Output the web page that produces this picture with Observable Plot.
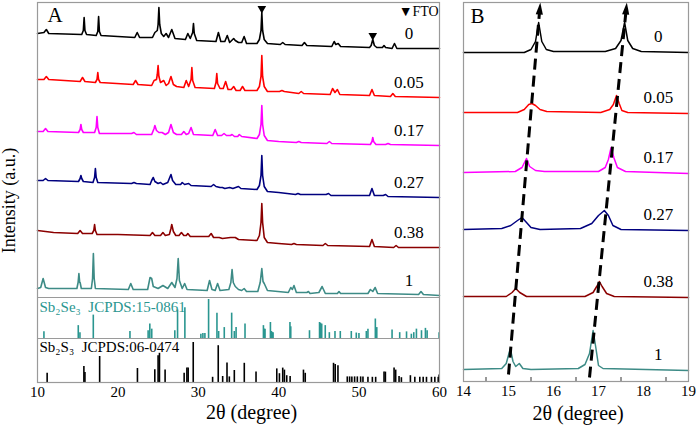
<!DOCTYPE html>
<html><head><meta charset="utf-8">
<script src="https://cdn.jsdelivr.net/npm/d3@7"></script>
<script src="https://cdn.jsdelivr.net/npm/@observablehq/plot@0.6"></script>
<style>
html,body{margin:0;padding:0;background:#fff;}
#wrap{position:relative;width:697px;height:428px;overflow:hidden;}
#pa{position:absolute;left:0;top:0;}
#pb{position:absolute;left:440px;top:0;}
#wrap svg, #wrap svg text{font-family:"Liberation Serif","Times New Roman",serif !important;}
</style></head><body>
<div id="wrap"><div id="pa"></div><div id="pb"></div></div>
<script>
// ---------------- DATA ----------------
const seriesNames = ["0", "0.05", "0.17", "0.27", "0.38", "1"];
const xTicksA = [10, 20, 30, 40, 50, 60];
const xTicksB = [14, 15, 16, 17, 18, 19];
const minorTicksB = [14.5, 15.5, 16.5, 17.5, 18.5];

// Panel A: 2θ (deg), intensity (a.u., stacked)
const scanA_0 = [[10,349],[10.8,350],[11.1,353],[11.4,349],[15.5,348],[15.7,352],[15.8,365],[15.9,352],[16.1,348],
 [17.3,347],[17.5,351],[17.6,366],[17.7,351],[17.9,347],[22.1,345],[22.4,350],[22.7,345],
 [24.3,345],[24.6,350],[24.9,352],[25.0,358],[25.1,375],[25.2,358],[25.4,349],[25.7,346],[26.0,349],[26.3,345],[26.7,353],[27.1,344],
 [28.4,343],[28.7,349],[29.0,344],[29.3,350],[29.4,359],[29.5,349],[29.8,342],
 [32.2,341],[32.5,350],[32.8,341],[33.3,341],[33.6,347],[33.9,340],[34.4,344],[34.6,342],[35.0,340],[35.4,340],[35.7,346],[36.0,339],
 [37.3,339],[37.6,343],[37.8,352],[37.9,370],[38.0,352],[38.2,343],[38.6,339],[40.2,338],[40.5,340],[40.8,338],
 [42.9,337],[43.2,340],[43.5,337],[46.6,336],[46.9,341],[47.1,338],[47.4,339],[47.7,336],
 [51.3,335],[51.5,337],[51.7,343],[51.9,337],[52.2,335],[52.9,335],[53.1,337],[53.3,335],[54.1,334],[54.4,339],[54.7,334],[60,334]];
const scanA_005 = [[10,303],[10.8,303],[11.1,306],[11.4,303],[15.3,301],[15.6,305],[15.9,301],
 [17.2,300],[17.4,303],[17.5,310],[17.6,303],[17.8,300],[21.9,298],[22.2,302],[22.5,298],
 [24.2,297],[24.5,302],[24.8,303],[24.9,308],[25.0,317],[25.1,306],[25.3,300],[25.7,302],[26.0,297],[26.3,299],[26.6,306],[26.9,298],[27.3,296],
 [28.2,295],[28.5,302],[28.8,296],[29.1,303],[29.2,315],[29.3,302],[29.6,295],
 [32.0,294],[32.2,300],[32.3,309],[32.4,299],[32.7,294],[33.1,294],[33.4,301],[33.7,293],[34.1,293],[34.4,296],[34.7,292],[35.2,292],[35.5,296],[35.8,292],
 [37.3,292],[37.6,296],[37.8,306],[37.9,327],[38.0,306],[38.2,296],[38.6,291],[40.1,291],[40.4,292],[40.7,291],
 [42.5,289],[42.8,291],[43.1,289],[46.4,288],[46.7,294],[47.0,290],[47.3,293],[47.6,288],
 [51.3,287],[51.6,293],[51.9,287],[53.9,286],[54.2,289],[54.5,286],[60,285]];
const scanA_017 = [[10,251],[10.7,251],[11.0,254],[11.3,251],[15.1,250],[15.3,253],[15.4,258],[15.5,253],[15.7,250],
 [17.1,250],[17.3,255],[17.4,266],[17.5,255],[17.7,249],[21.7,249],[22.0,250],[22.3,248],
 [24.2,248],[24.5,254],[24.6,257],[24.8,252],[25.1,250],[25.5,250],[25.9,248],[26.3,250],[26.6,258],[26.9,250],[27.3,248],
 [27.9,248],[28.2,251],[28.5,248],[28.8,249],[29.1,255],[29.4,248],
 [31.8,247],[32.1,253],[32.4,247],[32.9,247],[33.2,249],[33.5,247],[34.0,247],[34.2,248],[34.5,246],[34.9,246],[35.1,248],[35.4,246],
 [37.3,244],[37.6,248],[37.8,258],[37.9,277],[38.0,258],[38.2,247],[38.6,242],[40,241],
 [42.2,240],[42.5,241],[42.8,240],[46.0,239],[46.3,241],[46.6,239],
 [51.4,238],[51.6,241],[51.7,245],[51.8,241],[52.1,238],[53.3,238],[53.6,239],[53.9,238],[60,237]];
const scanA_027 = [[10,202],[10.7,202],[11.0,204],[11.3,202],[15.1,201],[15.3,204],[15.4,207],[15.5,204],[15.7,201],
 [16.9,200],[17.1,205],[17.2,214],[17.3,205],[17.5,200],[21.7,199],[22.0,200],[22.3,199],
 [24.0,198],[24.2,202],[24.4,205],[24.6,201],[25.0,199],[25.3,200],[25.6,198],[26.2,200],[26.5,206],[26.6,208],[26.8,202],[27.2,198],
 [27.8,198],[28.0,200],[28.3,198],[28.8,199],[29.1,197],
 [31.6,196],[31.9,198],[32.2,196],[32.7,195],[33.0,195],[33.3,194],[33.9,195],[34.3,194],[35.0,196],[35.3,194],
 [37.3,193],[37.6,197],[37.8,207],[37.9,227],[38.0,207],[38.2,196],[38.6,191],[40,190],
 [42.1,188],[42.4,189],[42.7,188],[45.9,188],[46.2,189],[46.5,187],
 [51.3,187],[51.6,194],[51.9,187],[53.0,187],[53.3,188],[53.6,186],[60,185]];
const scanA_038 = [[10,152],[12,150],[15.0,149],[15.3,152],[15.6,149],[16.8,149],[17.0,152],[17.1,158],[17.2,152],[17.4,148],
 [20,148],[24.0,147],[24.3,150],[24.6,147],[25.3,147],[25.6,150],[25.9,147],[26.4,148],[26.6,154],[26.7,158],[26.9,151],[27.2,147],
 [27.6,147],[27.9,150],[28.2,147],[28.5,147],[28.7,149],[29.0,146],
 [31.3,146],[31.6,149],[31.9,145],[32.3,145],[32.6,145],[33.0,144],[34.0,145],[34.6,145],[35.0,143],
 [37.3,142],[37.6,147],[37.8,160],[37.9,179],[38.0,160],[38.2,145],[38.6,140],[40,139],
 [41.6,138],[41.9,139],[42.2,138],[45.5,137],[45.8,139],[46.1,137],
 [51.3,136],[51.6,143],[51.9,136],[54.3,135],[54.6,137],[54.9,135],[60,135]];
const scanA_1 = [[10,94],[10.4,95],[10.7,104],[11.0,95],[11.4,94],
 [14.9,94],[15.05,100],[15.15,109],[15.25,100],[15.3,100],[15.45,94],
 [16.7,94],[16.85,104],[16.95,129],[17.05,104],[17.2,94],[21.3,93],[21.6,99],[21.9,93],
 [23.7,93],[24.0,105],[24.2,104],[24.4,96],[25.0,94],[25.6,97],[26.2,94],[26.7,100],[27.1,95],[27.35,104],[27.5,124],[27.65,102],[28.0,94],[28.3,99],[28.6,93],
 [31.1,92],[31.4,102],[31.7,93],[32.1,92],[32.4,99],[32.7,92],
 [33.8,93],[34.05,100],[34.2,113],[34.35,100],[34.6,96],[35.0,93],[35.4,92],[35.7,94],[36.0,91],
 [37.4,91],[37.7,100],[37.9,114],[38.05,101],[38.2,99],[38.6,92],
 [41.2,90],[41.5,95],[41.7,93],[41.9,97],[42.2,90],[43.5,90],[43.7,91],[43.9,89],
 [45.0,90],[45.4,96],[45.8,89],[47.3,89],[47.5,91],[47.7,89],
 [51.1,89],[51.4,93],[51.7,91],[52.0,95],[52.3,89],[57.4,88],[57.7,91],[58.0,88],[60,87]];

// FTO substrate peaks marked on the top pattern: 2θ, marker intensity
const ftoMarks = [[37.9, 374], [51.7, 347]];

// Reference patterns: 2θ, relative intensity (%)
const refSeLabel = "Sb₂Se₃  JCPDS:15-0861";
const refSticksSe = [[10.8,17],[15.07,33],[15.28,15],[16.94,60],[21.5,18],[23.76,20],[23.97,37],[24.21,24],[27.08,20],[27.42,73],[28.33,79],
 [30.32,11],[30.57,13],[30.82,13],[31.28,100],[32.32,65],[32.53,18],[33.23,28],[34.15,65],[34.48,18],[34.7,28],[35.81,37],
 [38.1,33],[38.2,24],[38.3,24],[38.97,41],[39.1,18],[39.2,15],[39.3,15],[41.4,41],[41.5,30],[43.83,20],
 [45.08,41],[45.2,39],[45.35,37],[45.79,33],[46.3,15],[47.0,18],[47.66,18],[49.03,18],[49.65,14],[49.98,13],
 [50.9,18],[51.1,24],[52.02,50],[52.2,28],[54.1,22],[55.05,15],[55.9,17],[56.5,11],[56.8,15],[57.13,24],[57.76,20],[58.25,26],[58.46,20],[59.95,15]];
const refSLabel = "Sb₂S₃  JCPDS:06-0474";
const refSticksS = [[11.2,23],[15.77,40],[15.9,25],[17.73,65],[22.43,35],[24.59,32],[25.0,67],[25.17,73],[25.87,31],[28.24,23],[28.58,36],[28.74,36],
 [29.37,100],[31.78,13],[32.48,92],[33.03,15],[33.57,49],[33.86,14],[34.48,30],[35.72,48],[37.18,26],
 [39.76,34],[40.09,22],[40.5,36],[40.71,31],[41.0,17],[41.42,15],[43.08,31],[43.3,23],[46.82,48],[47.03,45],[47.37,42],
 [48.53,14],[48.82,14],[49.1,14],[49.44,14],[49.78,14],[50.19,14],[50.48,14],[51.1,13],[51.65,13],[52.06,13],
 [53.1,26],[53.27,26],[54.35,36],[54.55,31],[54.97,15],[55.26,12],[56.38,17],[56.93,13],[57.55,13],[57.97,13],[58.38,13],[59.0,13],[59.42,13],[59.84,13],[59.95,19]];

// Panel B: 2θ (deg), intensity (a.u., stacked)
const scanB_0 = [[14,329],[15.35,329],[15.5,332],[15.6,340],[15.67,359],[15.74,340],[15.84,332],[16.0,330],
 [17.15,330],[17.38,333],[17.5,341],[17.58,359],[17.65,341],[17.76,333],[17.95,330],[19,329]];
const scanB_005 = [[14,269],[15.2,269],[15.35,272],[15.45,277],[15.52,278],[15.6,276],[15.7,272],[15.85,270],
 [17.05,269],[17.25,272],[17.33,277],[17.4,286],[17.46,278],[17.52,271],[17.65,269],[19,268]];
const scanB_017 = [[14,209],[15.15,210],[15.3,214],[15.4,223],[15.47,215],[15.6,211],[15.8,210],
 [17.0,210],[17.15,214],[17.22,222],[17.28,234],[17.34,224],[17.42,214],[17.6,210],[19,208]];
const scanB_027 = [[14,152],[14.85,153],[15.05,156],[15.2,161],[15.3,164],[15.38,160],[15.5,154],[15.7,152],
 [16.6,153],[16.85,158],[17.0,166],[17.13,171],[17.22,166],[17.32,156],[17.5,152],[19,151]];
const scanB_038 = [[14,85],[14.95,85],[15.08,89],[15.16,93],[15.25,89],[15.4,85],
 [16.7,85],[16.88,89],[16.96,95],[17.02,100],[17.08,95],[17.18,88],[17.35,85],[19,84]];
const scanB_1 = [[14,12],[14.85,13],[14.95,18],[15.04,33],[15.1,20],[15.16,15],[15.24,18],[15.32,13],[15.5,12],
 [16.55,13],[16.7,17],[16.8,28],[16.88,51],[16.94,34],[17.0,16],[17.1,13],[19,11]];

// Peak-shift guide lines (2θ, intensity) from bottom to top
const guidesB = [
  {x1: 15.0, y1: 7, x2: 15.69, y2: 370},
  {x1: 16.8, y1: 4, x2: 17.61, y2: 370}
];

// ---------------- STYLE / LAYOUT ----------------
const seriesColors = ["#000000", "#ff0000", "#ff00ff", "#00007f", "#8b0000", "#3d8b86"];
const refSeColor = "#2a9690";
const font = "Liberation Serif, Times New Roman, serif";
const frameColor = "#9a9a9a";
const intFmt = d => String(d);

const scansA = [scanA_0, scanA_005, scanA_017, scanA_027, scanA_038, scanA_1];
const scansB = [scanB_0, scanB_005, scanB_017, scanB_027, scanB_038, scanB_1];

function toTable(scans) {
  const t = [];
  scans.forEach((scan, i) => scan.forEach(([x, y]) => t.push({x, y, s: seriesNames[i]})));
  return t;
}
const tableA = toTable(scansA);
const tableB = toTable(scansB);
const labelRowsA = scansA.map((scan, i) => ({s: seriesNames[i], y: scan[scan.length - 1][1] + 14.5}));
const labelRowsB = scansB.map((scan, i) => ({s: seriesNames[i], y: scan[scan.length - 1][1] + 16}));

const seBase = 44, sepTop = 85;

const WA = 450, HA = 428, mlA = 37, mrA = 11, mtA = 2, mbA = 46;
const plotA = Plot.plot({
  width: WA, height: HA, marginLeft: mlA, marginRight: mrA, marginTop: mtA, marginBottom: mbA,
  style: {fontFamily: font, background: "transparent", overflow: "visible", color: "#000"},
  x: {domain: [10, 60]},
  y: {domain: [0, 380], axis: null},
  color: {domain: seriesNames, range: seriesColors},
  marks: [
    Plot.ruleY([seBase, sepTop], {stroke: frameColor, strokeWidth: 1.2}),
    Plot.ruleX(refSticksSe, {x: d => d[0], y1: seBase, y2: d => seBase + d[1] * 0.39, stroke: refSeColor, strokeWidth: 1.6}),
    Plot.ruleX(refSticksS, {x: d => d[0], y1: 0, y2: d => d[1] * 0.40, stroke: "#000", strokeWidth: 1.6}),
    Plot.text([refSeLabel], {x: 10.25, y: 75, text: d => d, textAnchor: "start", lineAnchor: "middle", fill: refSeColor, fontSize: 15}),
    Plot.text([refSLabel], {x: 10.25, y: 35, text: d => d, textAnchor: "start", lineAnchor: "middle", fill: "#000", fontSize: 15}),
    Plot.line(tableA, {x: "x", y: "y", z: "s", stroke: "s", strokeWidth: 1.6, strokeLinejoin: "round"}),
    Plot.dot(ftoMarks, {x: d => d[0], y: d => d[1], symbol: "triangle", r: 3.2, rotate: 180, fill: "#000", stroke: "none"}),
    Plot.text(["▼FTO"], {x: 59.9, y: 371, text: d => d, textAnchor: "end", lineAnchor: "middle", fontSize: 14}),
    Plot.text(labelRowsA, {x: 56.2, y: "y", text: "s", textAnchor: "middle", lineAnchor: "middle", fontSize: 17}),
    Plot.frame({stroke: frameColor, strokeWidth: 1.2}),
    Plot.text(["A"], {frameAnchor: "top-left", dx: 10, dy: 13, text: d => d, textAnchor: "start", lineAnchor: "middle", fontSize: 21}),
    Plot.axisX({ticks: xTicksA, tickFormat: intFmt, tickSize: 0, tickPadding: 4, fontSize: 15, label: null}),
    Plot.text(["2θ (degree)"], {frameAnchor: "bottom", dx: 13, dy: 30, text: d => d, textAnchor: "middle", lineAnchor: "middle", fontSize: 20}),
    Plot.text(["Intensity (a.u.)"], {frameAnchor: "left", dx: -28, dy: 8, rotate: -90, text: d => d, textAnchor: "middle", lineAnchor: "middle", fontSize: 18})
  ]
});
document.getElementById("pa").appendChild(plotA);

const WB = 257, HB = 428, mlB = 23, mrB = 9, mtB = 2, mbB = 47;
const pxPerDegB = (WB - mlB - mrB) / 5;
const pxPerYB = (HB - mtB - mbB) / 379;
const arrowHead = {
  draw(context, size) {
    const k = Math.sqrt(size / (Math.PI * 16));
    context.moveTo(0, -9 * k);
    context.lineTo(3.6 * k, 3 * k);
    context.lineTo(-3.6 * k, 3 * k);
    context.closePath();
  }
};
const plotB = Plot.plot({
  width: WB, height: HB, marginLeft: mlB, marginRight: mrB, marginTop: mtB, marginBottom: mbB,
  style: {fontFamily: font, background: "transparent", overflow: "visible", color: "#000"},
  x: {domain: [14, 19]},
  y: {domain: [0, 379], axis: null},
  color: {domain: seriesNames, range: seriesColors},
  marks: [
    Plot.ruleX(minorTicksB, {x: d => d, y1: 0, y2: 4, stroke: "#333", strokeWidth: 1}),
    Plot.line(tableB, {x: "x", y: "y", z: "s", stroke: "s", strokeWidth: 1.5, strokeLinejoin: "round"}),
    Plot.link(guidesB, {x1: "x1", y1: "y1", x2: "x2", y2: "y2", stroke: "#000", strokeWidth: 3, strokeDasharray: "11,6"}),
    Plot.dot(guidesB, {x: "x2", y: "y2", symbol: arrowHead, r: 4, fill: "#000", stroke: "none",
      rotate: d => Math.atan2((d.x2 - d.x1) * pxPerDegB, (d.y2 - d.y1) * pxPerYB) * 180 / Math.PI}),
    Plot.text(labelRowsB, {x: 18.33, y: "y", text: "s", textAnchor: "middle", lineAnchor: "middle", fontSize: 17}),
    Plot.frame({stroke: frameColor, strokeWidth: 1.2}),
    Plot.text(["B"], {frameAnchor: "top-left", dx: 7, dy: 13.5, text: d => d, textAnchor: "start", lineAnchor: "middle", fontSize: 21}),
    Plot.axisX({ticks: xTicksB, tickFormat: intFmt, tickSize: 0, tickPadding: 4, fontSize: 15, label: null}),
    Plot.text(["2θ (degree)"], {frameAnchor: "bottom", dx: 2, dy: 32, text: d => d, textAnchor: "middle", lineAnchor: "middle", fontSize: 20})
  ]
});
document.getElementById("pb").appendChild(plotB);
</script></body></html>
